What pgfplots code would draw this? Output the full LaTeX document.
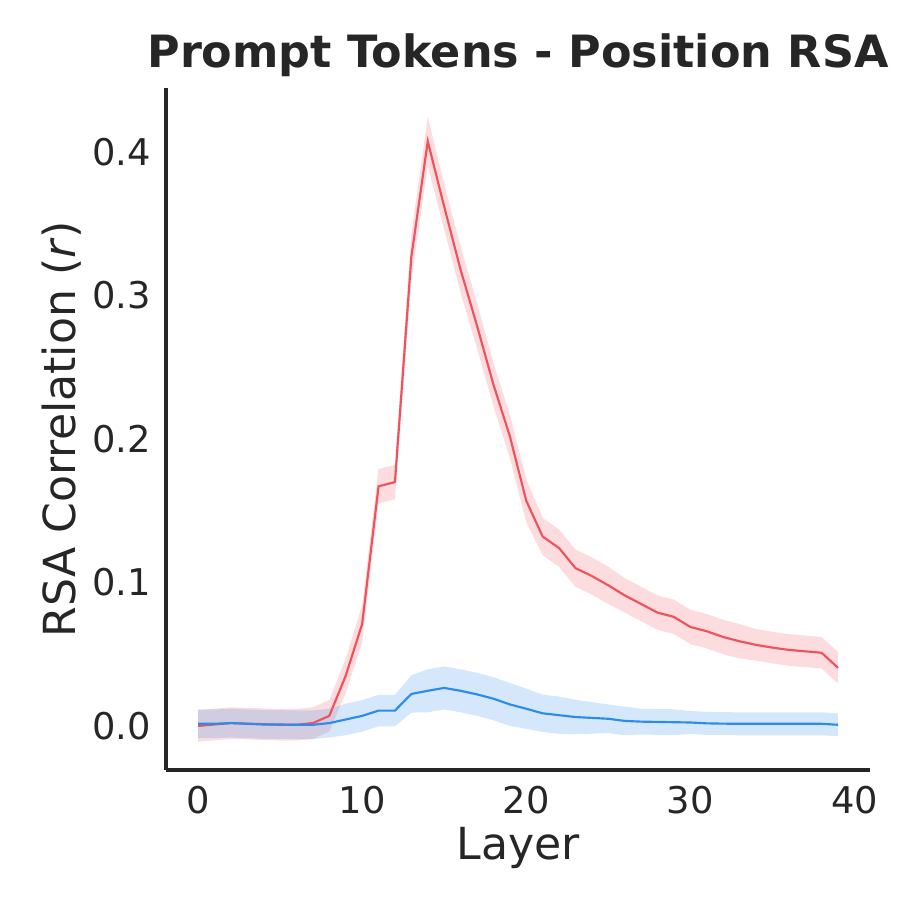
\documentclass[border=0pt]{standalone}
\usepackage{fontspec}
\setmainfont{DejaVu Sans}
\usepackage{pgfplots}
\usepgfplotslibrary{fillbetween}
\pgfplotsset{compat=1.18}

\definecolor{txt}{HTML}{262626}
\definecolor{redline}{RGB}{240,82,92}
\definecolor{blueline}{RGB}{44,140,235}

% prompt tokens, position RSA (mean with band)
\pgfplotstableread{
x   y       lo       hi
0   0.0000  -0.0110  0.0110
1   0.0010  -0.0100  0.0120
2   0.0020  -0.0090  0.0130
3   0.0016  -0.0094  0.0126
4   0.0012  -0.0098  0.0122
5   0.0008  -0.0102  0.0118
6   0.0008  -0.0102  0.0118
7   0.0020  -0.0090  0.0130
8   0.0070  -0.0040  0.0180
9   0.0350  0.0230   0.0470
10  0.0710  0.0580   0.0840
11  0.1670  0.1550   0.1790
12  0.1700  0.1580   0.1820
13  0.3270  0.3110   0.3430
14  0.4075  0.3905   0.4245
15  0.3620  0.3460   0.3780
16  0.3180  0.3020   0.3340
17  0.2790  0.2630   0.2950
18  0.2380  0.2230   0.2530
19  0.2020  0.1870   0.2170
20  0.1570  0.1420   0.1720
21  0.1320  0.1190   0.1450
22  0.1240  0.1110   0.1370
23  0.1100  0.0970   0.1230
24  0.1045  0.0915   0.1175
25  0.0980  0.0850   0.1110
26  0.0910  0.0790   0.1030
27  0.0850  0.0730   0.0970
28  0.0790  0.0670   0.0910
29  0.0760  0.0640   0.0880
30  0.0690  0.0570   0.0810
31  0.0660  0.0540   0.0780
32  0.0620  0.0500   0.0740
33  0.0590  0.0470   0.0710
34  0.0565  0.0455   0.0675
35  0.0546  0.0436   0.0656
36  0.0530  0.0420   0.0640
37  0.0520  0.0410   0.0630
38  0.0510  0.0400   0.0620
39  0.0405  0.0295   0.0515
}\redtab

\pgfplotstableread{
x   y       lo       hi
0   0.0015  -0.0085  0.0115
1   0.0015  -0.0085  0.0115
2   0.0020  -0.0080  0.0120
3   0.0015  -0.0085  0.0115
4   0.0010  -0.0090  0.0110
5   0.0010  -0.0090  0.0110
6   0.0008  -0.0092  0.0108
7   0.0008  -0.0092  0.0108
8   0.0020  -0.0080  0.0120
9   0.0045  -0.0065  0.0155
10  0.0070  -0.0040  0.0180
11  0.0107  -0.0003  0.0217
12  0.0107  -0.0003  0.0217
13  0.0223  0.0093   0.0353
14  0.0245  0.0095   0.0395
15  0.0265  0.0115   0.0415
16  0.0245  0.0095   0.0395
17  0.0220  0.0070   0.0370
18  0.0190  0.0040   0.0340
19  0.0150  0.0000   0.0300
20  0.0120  -0.0020  0.0260
21  0.0088  -0.0042  0.0218
22  0.0075  -0.0055  0.0205
23  0.0062  -0.0058  0.0182
24  0.0056  -0.0054  0.0166
25  0.0050  -0.0050  0.0150
26  0.0035  -0.0065  0.0135
27  0.0030  -0.0060  0.0120
28  0.0028  -0.0062  0.0118
29  0.0026  -0.0064  0.0116
30  0.0024  -0.0056  0.0104
31  0.0018  -0.0062  0.0098
32  0.0016  -0.0064  0.0096
33  0.0015  -0.0065  0.0095
34  0.0015  -0.0065  0.0095
35  0.0015  -0.0065  0.0095
36  0.0015  -0.0065  0.0095
37  0.0015  -0.0065  0.0095
38  0.0015  -0.0065  0.0095
39  0.0008  -0.0072  0.0088
}\bluetab

\begin{document}
\begin{tikzpicture}
\begin{axis}[
name=ax,
scale only axis,
width=229.4pt, height=222.2pt,
xmin=-1.95, xmax=40.95, ymin=-0.0307, ymax=0.4446,
axis lines=left,
axis line style={-, line width=1.2pt, color=txt},
major tick length=0pt,
xtick={0,10,20,30,40},
ytick={0,0.1,0.2,0.3,0.4},
yticklabel style={/pgf/number format/fixed, /pgf/number format/fixed zerofill, /pgf/number format/precision=1},
/pgf/number format/assume math mode=true,
tick label style={font=\fontsize{12}{14}\selectfont, color=txt},
xticklabel style={anchor=north, inner sep=0pt, yshift=-5.2pt},
yticklabel style={anchor=east, inner sep=0pt, xshift=-4.7pt},
title={Prompt Tokens - Position RSA},
title style={at={(axis description cs:0.5,1.003)}, anchor=base, inner sep=0pt, font=\bfseries\fontsize{14.5}{17}\selectfont, color=txt},
xlabel={Layer},
ylabel={RSA Correlation (\textit{r})},
xlabel style={at={(axis description cs:0.5,-0.1319)}, anchor=base, inner sep=0pt, font=\fontsize{14.4}{17}\selectfont, color=txt},
ylabel style={at={(axis description cs:-0.129,0.5)}, anchor=base, inner sep=0pt, font=\fontsize{14.4}{17}\selectfont, color=txt},
]
\addplot[draw=none, name path=rhi, forget plot] table[x=x, y=hi] {\redtab};
\addplot[draw=none, name path=rlo, forget plot] table[x=x, y=lo] {\redtab};
\addplot[fill=redline, fill opacity=0.2, draw=none, forget plot] fill between[of=rhi and rlo];

\addplot[draw=none, name path=bhi, forget plot] table[x=x, y=hi] {\bluetab};
\addplot[draw=none, name path=blo, forget plot] table[x=x, y=lo] {\bluetab};
\addplot[fill=blueline, fill opacity=0.2, draw=none, forget plot] fill between[of=bhi and blo];

\addplot[redline, line width=0.7pt, mark=none] table[x=x, y=y] {\redtab};
\addplot[blueline, line width=0.7pt, mark=none] table[x=x, y=y] {\bluetab};
\end{axis}
\path ([xshift=-54.1pt, yshift=-46.6pt]ax.south west) rectangle ([xshift=14pt, yshift=28.7pt]ax.north east);
\end{tikzpicture}
\end{document}
